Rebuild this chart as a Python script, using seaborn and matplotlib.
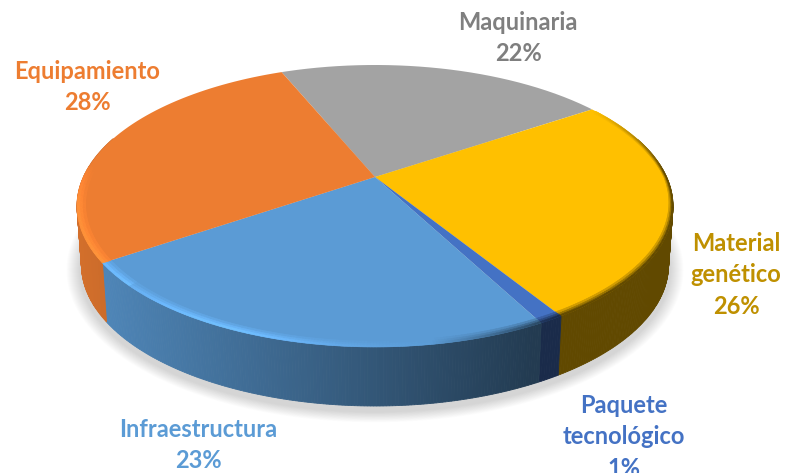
import numpy as np
import matplotlib
matplotlib.use("Agg")
import matplotlib.pyplot as plt
import seaborn as sns
from matplotlib.path import Path
from matplotlib.transforms import Transform, Affine2D

categories = ["Maquinaria", "Material\ngenético", "Paquete\ntecnológico", "Infraestructura", "Equipamiento"]
values = [21.8, 25.6, 1.1, 23.2, 28.3]
top_colors = ["#A3A3A3", "#FFC000", "#4472C4", "#5B9BD5", "#ED7D31"]
label_colors = ["#7F7F7F", "#BF9000", "#4472C4", "#5B9BD5", "#ED7D31"]
label_x = [518, 736, 624, 198, 87]
label_y = [38, 275, 437, 445, 87]

# projection of the pie's top face
CX, CY = 375.0, 206.0
RY, APEX = 141.0, 29.0
TILT = APEX / RY
DX = 298.0 * np.sqrt(1 - TILT ** 2)
DEPTH = 59.0
SHRINK = 0.985


def project(x, y):
    w = 1 + TILT * y
    return CX + DX * x / w, CY - (RY * y + APEX) / w


def lower(x, y):
    return CX + (x - CX) * SHRINK, y + DEPTH


class Tilted(Transform):
    input_dims = output_dims = 2
    is_separable = False
    has_inverse = False

    def transform_non_affine(self, values):
        v = np.asarray(values, dtype=float)
        x, y = project(v[:, 0], v[:, 1])
        return np.column_stack((x, y))

    def transform_path_non_affine(self, path):
        polys = path.to_polygons(transform=Affine2D().scale(600), closed_only=False)
        verts = np.vstack(polys) / 600
        return Path(self.transform_non_affine(verts))


sns.set_style("white")
plt.rcParams["font.family"] = ["Lato", "DejaVu Sans"]
palette = sns.color_palette(top_colors)

fig = plt.figure(figsize=(7.85, 4.73), dpi=100)
ax = fig.add_axes([0, 0, 1, 1])

wedges, _ = ax.pie(values, colors=palette, startangle=112.4, counterclock=False, frame=True)
tilted = Tilted()
for w in wedges:
    w.set_transform(tilted + ax.transData)
    w.set_zorder(5)
    w.set_linewidth(0)

ax.set_xlim(0, 785)
ax.set_ylim(473, 0)
ax.set_axis_off()

# soft shadow below the disc
t = np.linspace(0, 2 * np.pi, 240)
ox, oy = project(np.cos(t), np.sin(t))
for k in range(14):
    g = (15 - k) / 300
    ax.fill(CX + (ox - CX) * (SHRINK + g), 206 + DEPTH + 5 + (oy - 206) * (1 + g * 1.6),
            color="#808080", alpha=0.022, lw=0, zorder=1)


def wall_shade(x):
    return np.maximum(0.38, 0.86 - 0.48 * (x - 105) / 430)


# side wall and bevel, slice by slice
for w, col in zip(wedges, palette):
    base = np.array(col)
    th = np.radians(np.arange(w.theta1, w.theta2 + 0.25, 0.5))
    th[-1] = min(th[-1], np.radians(w.theta2))
    for a0, a1 in zip(th[:-1], th[1:]):
        if np.sin((a0 + a1) / 2) > 0.3:
            continue
        tx0, ty0 = project(np.cos(a0), np.sin(a0))
        tx1, ty1 = project(np.cos(a1), np.sin(a1))
        bx0, by0 = lower(tx0, ty0)
        bx1, by1 = lower(tx1, ty1)
        c = np.clip(base * wall_shade((tx0 + tx1) / 2), 0, 1)
        ax.fill([tx0, tx1, bx1, bx0], [ty0, ty1, by1, by0], color=c, lw=0.6, ec=c, zorder=3)
    for a0, a1 in zip(th[:-1], th[1:]):
        am = (a0 + a1) / 2
        s, x = np.sin(am), project(np.cos(am), np.sin(am))[0]
        lit = (np.exp(-((x - 220) / 120) ** 2) * 0.24 + 0.1 * (x < 130)) * np.clip((0.1 - s) / 0.3, 0, 1)
        dark = np.clip((x - 430) / 130, 0, 1) * np.clip((0.55 - s) / 0.5, 0, 1) * 0.62
        narrow = 1.0 if x < CX else 0.35 + 0.65 * abs(s)
        steps = [(0.972, 0.982, 0.3), (0.982, 0.991, 0.65), (0.991, 1.0, 1.0)]
        for r0, r1, weight in steps:
            if lit * weight < 0.01 and dark * weight < 0.01:
                continue
            c = np.clip(base * (1 - dark * weight) * (1 + lit * weight), 0, 1)
            r0 = 1 - (1 - r0) * narrow
            r1 = 1 - (1 - r1) * narrow
            xs, ys = project(np.array([r0 * np.cos(a0), r0 * np.cos(a1), r1 * np.cos(a1), r1 * np.cos(a0)]),
                             np.array([r0 * np.sin(a0), r0 * np.sin(a1), r1 * np.sin(a1), r1 * np.sin(a0)]))
            ax.fill(xs, ys, color=c, lw=0.4, ec=c, zorder=6)

for name, v, col, x, y in zip(categories, values, label_colors, label_x, label_y):
    ax.text(x, y, f"{name}\n{round(v)}%", color=col, ha="center", va="center", fontsize=17,
            fontweight="bold", linespacing=1.43, zorder=8, clip_on=False)

fig.savefig("out.png", dpi=100)
